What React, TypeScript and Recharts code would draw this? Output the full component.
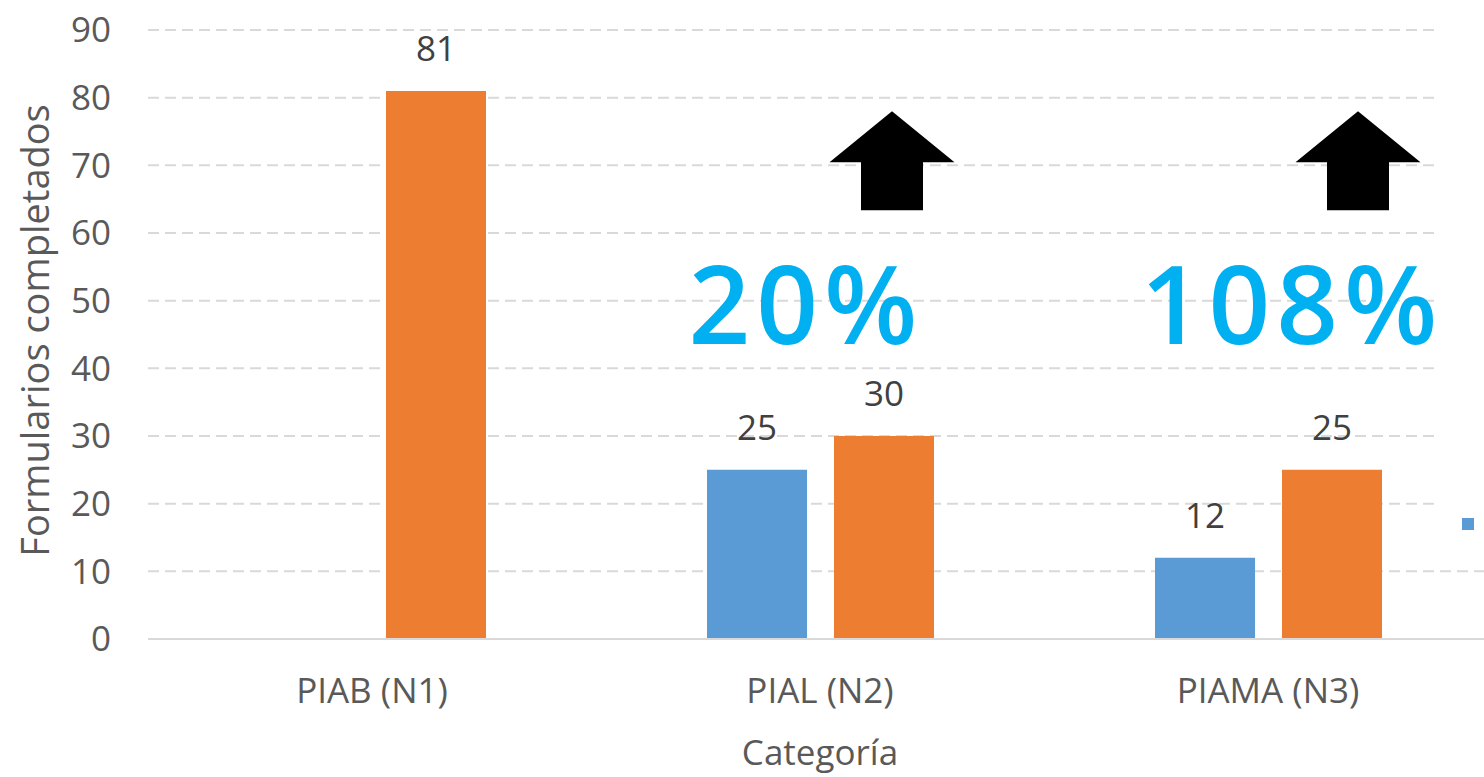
import React from 'react';
import { BarChart, Bar, XAxis, YAxis, CartesianGrid, LabelList, ReferenceDot } from 'recharts';

const categories = ['PIAB (N1)', 'PIAL (N2)', 'PIAMA (N3)'];
const seriesBlue: (number | null)[] = [null, 25, 12];
const seriesOrange: number[] = [81, 30, 25];
const yTicks = [0, 10, 20, 30, 40, 50, 60, 70, 80, 90];
const changeCategories = ['PIAL (N2)', 'PIAMA (N3)'];
const changeLabels = ['20%', '108%'];
const arrowTipValue = 78;

// annotation placement offsets (px, relative to category centre)
const arrowOffsets = [72, 90];
const textOffsets = [-14, 24];

const BLUE = '#5b9bd5';
const ORANGE = '#ed7d31';
const FONT = "'Open Sans', 'Noto Sans', sans-serif";

const data = categories.map((c, i) => ({ category: c, blue: seriesBlue[i], orange: seriesOrange[i] }));

const tickStyle = { fill: '#595959', fontSize: 35, fontFamily: FONT };

const renderValueLabel = (props: any) => {
  const { x, y, width, value } = props;
  if (value === null || value === undefined) return null;
  return (
    <text x={x + width / 2} y={y - 30} textAnchor="middle" fill="#404040" fontSize={35} fontFamily={FONT}>
      {value}
    </text>
  );
};

const makeAnnotation = (idx: number) => (props: any) => {
  const { cx, cy } = props;
  const ax = cx + arrowOffsets[idx];
  const tx = cx + textOffsets[idx];
  const pts = [
    [ax, cy],
    [ax + 62.5, cy + 51],
    [ax + 31, cy + 51],
    [ax + 31, cy + 99],
    [ax - 31, cy + 99],
    [ax - 31, cy + 51],
    [ax - 62.5, cy + 51],
  ]
    .map((p) => p.join(','))
    .join(' ');
  return (
    <g>
      <polygon points={pts} fill="#000" />
      <text
        x={tx}
        y={cy + 233}
        textAnchor="middle"
        fill="#00b0f0"
        fontSize={108}
        fontWeight={600}
        letterSpacing={6}
        fontFamily={FONT}
      >
        {changeLabels[idx]}
      </text>
    </g>
  );
};

export default function App() {
  return (
    <div
      style={{
        position: 'fixed',
        left: 0,
        top: 0,
        width: 1484,
        height: 777,
        overflow: 'hidden',
        background: '#fff',
      }}
    >
      <BarChart
        width={1492}
        height={777}
        data={data}
        margin={{ top: 30, right: 0, bottom: 48, left: 0 }}
        barSize={100}
        barGap={27}
        style={{ fontFamily: FONT }}
      >
        <CartesianGrid vertical={false} stroke="#d9d9d9" strokeDasharray="11 6" strokeWidth={2} />
        <XAxis
          dataKey="category"
          axisLine={{ stroke: '#d9d9d9', strokeWidth: 2 }}
          tickLine={false}
          tickSize={0}
          tickMargin={39}
          tick={tickStyle}
          height={90}
          interval={0}
          label={{
            content: (p: any) => {
              const vb = p.viewBox;
              return (
                <text
                  x={vb.x + vb.width / 2}
                  y={vb.y + 126}
                  textAnchor="middle"
                  fill="#595959"
                  fontSize={35}
                  fontFamily={FONT}
                >
                  Categoría
                </text>
              );
            },
          }}
        />
        <YAxis
          domain={[0, 90]}
          ticks={yTicks}
          interval={0}
          width={148}
          axisLine={false}
          tickLine={false}
          tickSize={0}
          tickMargin={37}
          tick={tickStyle}
          label={{
            content: (p: any) => {
              const vb = p.viewBox;
              const x = vb.x + 34;
              const y = vb.y + vb.height / 2 - 4;
              return (
                <text
                  x={x}
                  y={y}
                  transform={`rotate(-90, ${x}, ${y})`}
                  textAnchor="middle"
                  dominantBaseline="central"
                  fill="#595959"
                  fontSize={38}
                  fontFamily={FONT}
                >
                  Formularios completados
                </text>
              );
            },
          }}
        />
        <Bar dataKey="blue" fill={BLUE} isAnimationActive={false}>
          <LabelList dataKey="blue" content={renderValueLabel} />
        </Bar>
        <Bar dataKey="orange" fill={ORANGE} isAnimationActive={false}>
          <LabelList dataKey="orange" content={renderValueLabel} />
        </Bar>
        {changeCategories.map((c, i) => (
          <ReferenceDot
            key={c}
            x={c}
            y={arrowTipValue}
            r={0}
            ifOverflow="visible"
            shape={makeAnnotation(i)}
          />
        ))}
      </BarChart>
      <div
        style={{
          position: 'absolute',
          left: 1438,
          top: 0,
          width: 46,
          height: 556,
          background: '#fff',
        }}
      >
        <div style={{ position: 'absolute', left: 24, top: 518, width: 12, height: 12, background: BLUE }} />
      </div>
    </div>
  );
}
